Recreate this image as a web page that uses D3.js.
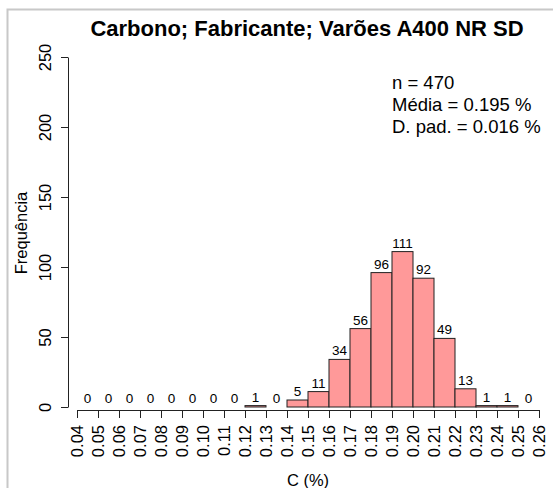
<!DOCTYPE html>
<html><head><meta charset="utf-8">
<script src="https://cdn.jsdelivr.net/npm/d3@7"></script>
<style>body{margin:0;background:#fff}svg{display:block}text{font-family:"Liberation Sans",Arial,sans-serif}</style>
</head><body>
<svg id="c" width="553" height="488"></svg>
<script>
const binEdges = [0.04,0.05,0.06,0.07,0.08,0.09,0.10,0.11,0.12,0.13,0.14,0.15,0.16,0.17,0.18,0.19,0.20,0.21,0.22,0.23,0.24,0.25,0.26];
const counts = [0,0,0,0,0,0,0,0,1,0,5,11,34,56,96,111,92,49,13,1,1,0];
const yTicks = [0,50,100,150,200,250];
const title = "Carbono; Fabricante; Varões A400 NR SD";
const statsLines = ["n = 470","Média = 0.195 %","D. pad. = 0.016 %"];

const svg = d3.select("#c");
// outer gray frame
svg.append("rect").attr("x",7.5).attr("y",9.5).attr("width",560).attr("height",500)
  .attr("fill","none").attr("stroke","#c8c8c8").attr("stroke-width",2);

const x = d3.scaleLinear().domain([0.04,0.26]).range([77,539]);
const y = d3.scaleLinear().domain([0,250]).range([407,57]);

const bins = counts.map((c,i)=>({x0:binEdges[i],x1:binEdges[i+1],c}));
svg.append("g").selectAll("rect").data(bins).join("rect")
  .attr("x",d=>x(d.x0)).attr("width",d=>x(d.x1)-x(d.x0))
  .attr("y",d=>y(d.c)).attr("height",d=>y(0)-y(d.c))
  .attr("fill","#ff9999").attr("stroke","#222").attr("stroke-width",1);
svg.append("g").selectAll("text").data(bins).join("text")
  .attr("x",d=>(x(d.x0)+x(d.x1))/2).attr("y",d=>y(d.c)-4)
  .attr("text-anchor","middle").attr("font-size",13.5).text(d=>d.c);

// x axis
const xa = svg.append("g").attr("transform","translate(0,410)")
  .call(d3.axisBottom(x).tickValues(binEdges).tickSize(8).tickSizeOuter(0).tickFormat(d3.format(".2f")));
xa.select(".domain").attr("stroke","#222");
xa.selectAll(".tick line").attr("stroke","#222");
xa.selectAll(".tick text").attr("font-size",16.5).attr("fill","#000")
  .attr("transform","rotate(-90)").attr("text-anchor","end")
  .attr("x",-15).attr("y",0).attr("dy","0.36em");

// y axis
const ya = svg.append("g").attr("transform","translate(68,0)")
  .call(d3.axisLeft(y).tickValues(yTicks).tickSize(7).tickSizeOuter(0));
ya.select(".domain").attr("stroke","#222");
ya.selectAll(".tick line").attr("stroke","#222");
ya.selectAll(".tick text").attr("font-size",16.5).attr("fill","#000")
  .attr("transform","rotate(-90)").attr("text-anchor","middle")
  .attr("x",0).attr("y",-17).attr("dy","0");

svg.append("text").attr("x",307).attr("y",36).attr("text-anchor","middle")
  .attr("font-size",22).attr("font-weight","bold").text(title);
svg.append("text").attr("transform","translate(27,233) rotate(-90)").attr("text-anchor","middle")
  .attr("font-size",16.5).text("Frequência");
svg.append("text").attr("x",308).attr("y",486).attr("text-anchor","middle")
  .attr("font-size",16.5).text("C (%)");
svg.append("g").selectAll("text").data(statsLines).join("text")
  .attr("x",392).attr("y",(d,i)=>89+i*22).attr("font-size",18.5).text(d=>d);
</script>
</body></html>
